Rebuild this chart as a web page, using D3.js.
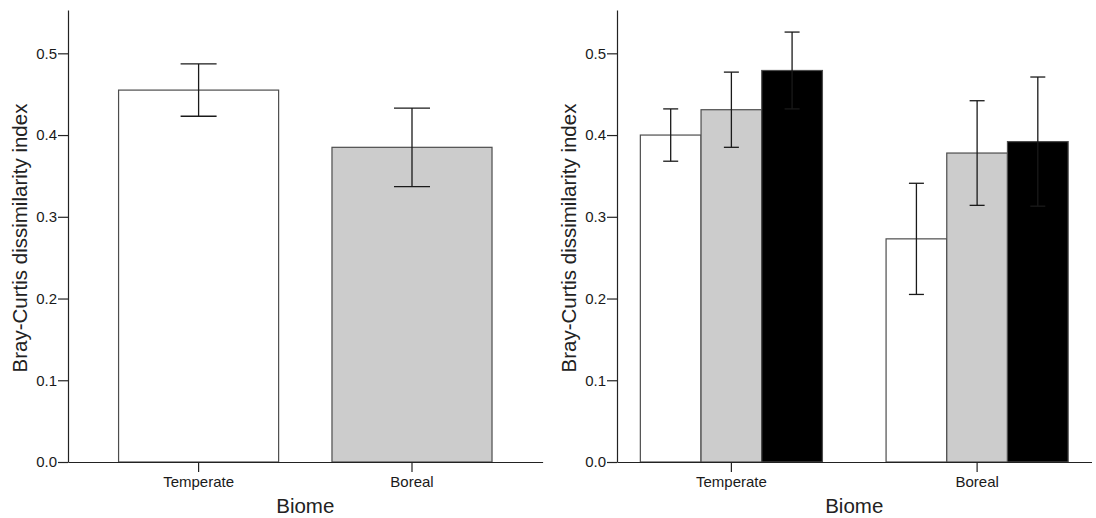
<!DOCTYPE html>
<html>
<head>
<meta charset="utf-8">
<script src="https://cdn.jsdelivr.net/npm/d3@7"></script>
<style>
  html, body { margin: 0; padding: 0; background: #fff; }
  svg { display: block; font-family: "Liberation Sans", Arial, sans-serif; }
  .axis text { fill: #1a1a1a; }
  .axis path, .axis line { stroke: #222; stroke-width: 1.2; }
</style>
</head>
<body>
<svg id="chart" width="1096" height="518"></svg>
<script>
// Biome categories and tick values
const categories = ["Temperate", "Boreal"];
const yTicks = [0, 0.1, 0.2, 0.3, 0.4, 0.5];

// Overall dissimilarity per biome (mean and standard error)
const biomeMean = [0.455, 0.385];
const biomeSE = [0.032, 0.048];

// Three sub-groups within each biome (white, grey, black bars)
const subgroups = ["g1", "g2", "g3"];
const temperateMean = [0.400, 0.431, 0.479];
const temperateSE = [0.032, 0.046, 0.047];
const borealMean = [0.273, 0.378, 0.392];
const borealSE = [0.068, 0.064, 0.079];

const fills = ["#ffffff", "#cccccc", "#000000"];

const svg = d3.select("#chart");
const yTop = 10, yBottom = 462;

function drawPanel(opts) {
  const g = svg.append("g");
  const y = d3.scaleLinear().domain([0, 0.553]).range([yBottom, yTop]);
  const x = d3.scaleBand().domain(categories)
    .range([opts.x0, opts.x1])
    .paddingInner(opts.padInner).paddingOuter(opts.padOuter);

  // bars
  opts.data.forEach(d => {
    g.append("rect")
      .attr("x", d.x)
      .attr("y", y(d.mean))
      .attr("width", d.w)
      .attr("height", y(0) - y(d.mean))
      .attr("fill", d.fill)
      .attr("stroke", "#4d4d4d")
      .attr("stroke-width", 1.2);
  });

  // error bars
  opts.data.forEach(d => {
    const cx = d.x + d.w / 2;
    const eb = g.append("g").attr("stroke", "#1a1a1a").attr("stroke-width", 1.3);
    eb.append("line").attr("x1", cx).attr("x2", cx)
      .attr("y1", y(d.mean + d.se)).attr("y2", y(d.mean - d.se));
    [d.mean + d.se, d.mean - d.se].forEach(v => {
      eb.append("line")
        .attr("x1", cx - opts.cap / 2).attr("x2", cx + opts.cap / 2)
        .attr("y1", y(v)).attr("y2", y(v));
    });
  });

  // axes
  const yAxis = d3.axisLeft(y).tickValues(yTicks).tickFormat(d3.format(".1f"))
    .tickSize(10).tickPadding(1).tickSizeOuter(0);
  g.append("g").attr("class", "axis")
    .attr("transform", `translate(${opts.x0},0)`)
    .call(yAxis)
    .call(a => a.selectAll("text").attr("font-size", 15));

  const xAxis = d3.axisBottom(x).tickSize(10).tickPadding(4).tickSizeOuter(0);
  g.append("g").attr("class", "axis")
    .attr("transform", `translate(0,${yBottom})`)
    .call(xAxis)
    .call(a => a.selectAll("text").attr("font-size", 15));

  // axis titles
  g.append("text")
    .attr("x", (opts.x0 + opts.x1) / 2)
    .attr("y", 512.5)
    .attr("text-anchor", "middle")
    .attr("font-size", 20.5)
    .attr("fill", "#222")
    .text("Biome");

  g.append("text")
    .attr("transform", `translate(${opts.x0 - 41},${(yTop + yBottom) / 2 + 2}) rotate(-90)`)
    .attr("text-anchor", "middle")
    .attr("font-size", 20.5)
    .attr("fill", "#222")
    .text("Bray-Curtis dissimilarity index");

  return x;
}

// Left panel: one bar per biome
(function () {
  const x0 = 68, x1 = 542.6;
  const x = d3.scaleBand().domain(categories).range([x0, x1])
    .paddingInner(0.25).paddingOuter(0.237);
  const data = categories.map((c, i) => ({
    x: x(c), w: x.bandwidth(), mean: biomeMean[i], se: biomeSE[i], fill: fills[i]
  }));
  drawPanel({ x0, x1, padInner: 0.25, padOuter: 0.237, cap: 36, data });
})();

// Right panel: three grouped bars per biome
(function () {
  const x0 = 617, x1 = 1091.5;
  const x = d3.scaleBand().domain(categories).range([x0, x1])
    .paddingInner(0.259).paddingOuter(0.095);
  const xs = d3.scaleBand().domain(subgroups).range([0, x.bandwidth()]).padding(0);
  const means = { Temperate: temperateMean, Boreal: borealMean };
  const ses = { Temperate: temperateSE, Boreal: borealSE };
  const data = [];
  categories.forEach(c => {
    subgroups.forEach((s, j) => {
      data.push({
        x: x(c) + xs(s), w: xs.bandwidth(),
        mean: means[c][j], se: ses[c][j], fill: fills[j]
      });
    });
  });
  drawPanel({ x0, x1, padInner: 0.259, padOuter: 0.095, cap: 15, data });
})();
</script>
</body>
</html>
